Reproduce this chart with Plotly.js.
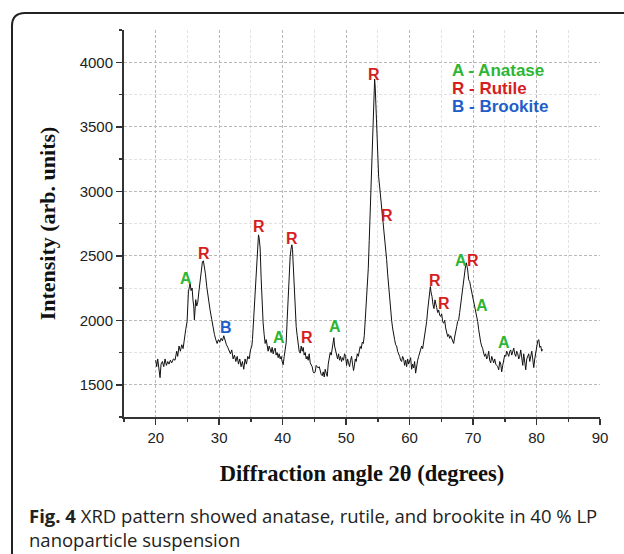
<!DOCTYPE html>
<html>
<head>
<meta charset="utf-8">
<script src="https://cdn.plot.ly/plotly-3.0.1.min.js"></script>
<style>
  html, body { margin: 0; padding: 0; background: #ffffff; }
  #chart { width: 624px; height: 554px; }
</style>
</head>
<body>
<div id="chart"></div>
<script>
// ---- Data ----
const twoTheta = [
  20.00,20.15,20.31,20.47,20.68,20.84,21.05,21.26,21.47,21.68,21.89,22.10,22.31,22.52,22.78,23.04,23.31,23.46,23.67,23.88,
  24.10,24.31,24.52,24.73,24.94,25.15,25.31,25.41,25.57,25.73,25.88,25.99,26.09,26.20,26.30,26.46,26.62,26.83,26.99,27.14,
  27.36,27.51,27.67,27.83,28.04,28.30,28.56,28.83,29.04,29.25,29.46,29.67,29.88,30.09,30.30,30.51,30.72,30.93,31.14,31.35,
  31.56,31.77,31.98,32.19,32.40,32.62,32.83,33.04,33.24,33.45,33.66,33.87,34.08,34.29,34.50,34.72,34.93,35.14,
  35.24,35.40,35.56,35.71,35.87,36.03,36.19,36.29,36.45,36.61,36.77,36.92,37.08,37.24,37.40,37.55,37.71,37.87,38.03,38.19,
  38.34,38.50,38.66,38.82,38.97,39.13,39.29,39.45,39.61,39.76,39.92,40.08,40.24,40.39,40.55,40.71,40.87,41.02,41.18,41.34,
  41.45,41.55,41.66,41.76,41.87,41.97,42.13,42.29,42.44,42.60,42.76,42.92,43.08,43.23,43.39,43.55,43.71,43.86,44.02,44.18,
  44.34,44.50,44.65,44.81,44.97,45.13,45.28,45.44,45.60,45.76,45.92,46.07,46.23,46.39,46.55,46.70,46.86,47.02,47.18,47.33,
  47.49,47.65,47.81,47.97,48.07,48.18,48.33,48.49,48.65,48.81,48.96,49.12,49.28,49.44,49.59,49.75,49.91,50.07,50.23,50.38,
  50.54,50.70,50.86,51.01,51.17,
  51.28,51.44,51.59,51.75,51.91,52.07,52.22,52.38,52.54,52.70,52.86,53.01,53.17,53.33,53.49,53.64,53.80,53.96,54.12,54.28,
  54.38,54.49,54.59,54.70,54.80,54.96,55.12,55.27,55.43,55.59,55.75,55.90,56.06,56.22,56.38,56.54,56.69,56.85,57.01,57.17,
  57.32,57.48,57.64,57.80,57.96,58.11,58.27,58.43,58.59,58.74,58.90,59.06,59.22,59.38,59.53,59.69,59.85,60.01,60.16,60.32,
  60.48,60.64,60.79,60.95,61.11,61.27,61.43,61.58,61.74,61.90,62.06,62.21,62.37,62.53,62.69,62.85,63.00,63.16,63.27,63.37,
  63.53,63.69,63.84,64.00,64.11,64.26,64.42,64.58,64.74,64.90,65.05,65.21,65.37,65.53,65.68,65.84,66.00,66.16,66.31,
  66.47,66.63,66.79,66.94,67.10,67.26,67.42,67.57,67.73,67.89,68.05,68.20,68.36,68.52,68.68,68.84,68.94,69.05,69.15,69.31,
  69.47,69.62,69.78,69.94,70.10,70.26,70.41,70.57,70.73,70.89,71.04,71.20,71.36,71.52,71.67,71.83,71.99,72.15,72.31,72.46,
  72.62,72.78,72.94,73.09,73.25,73.41,73.57,73.73,73.88,74.04,74.20,74.36,74.51,74.67,74.83,74.99,75.15,75.30,75.46,75.62,
  75.78,75.93,76.09,76.25,76.41,76.56,76.72,76.88,77.04,77.20,77.35,77.51,77.67,77.83,77.98,78.14,78.30,78.46,78.62,78.77,
  78.93,79.09,79.25,79.40,79.56,79.72,79.88,80.03,80.19,80.35,80.51,80.66,80.82,80.93
];
const intensity = [
  1690,1640,1700,1620,1555,1660,1680,1640,1700,1650,1680,1660,1690,1670,1700,1690,1760,1720,1800,1760,
  1810,1780,1870,1930,1990,2220,2260,2290,2230,2250,2150,2110,2003,2080,2160,2110,2140,2235,2320,2390,
  2455,2460,2420,2360,2260,2160,2080,2005,1930,1890,1850,1820,1850,1830,1860,1840,1880,1840,1810,1790,
  1760,1740,1770,1700,1730,1680,1720,1660,1700,1640,1680,1620,1700,1660,1720,1700,1770,1800,
  1850,2003,2150,2290,2450,2580,2662,2640,2560,2325,2120,1980,1890,1820,1850,1790,1760,1800,1770,1750,
  1790,1740,1770,1784,1730,1750,1710,1740,1700,1720,1680,1655,1720,1760,1825,2003,2200,2380,2495,2560,
  2585,2550,2420,2260,2120,2030,1950,1880,1790,1760,1745,1800,1760,1790,1730,1750,1700,1720,1690,1740,
  1670,1650,1640,1600,1590,1600,1650,1640,1630,1640,1590,1580,1570,1600,1560,1620,1590,1565,1660,1700,
  1750,1730,1770,1830,1865,1800,1760,1730,1700,1740,1690,1720,1680,1710,1690,1740,1720,1650,1700,1670,
  1640,1690,1720,1660,1610,
  1640,1700,1680,1740,1720,1760,1797,1780,1830,1820,1880,2003,2110,2240,2400,2620,2854,3150,3450,3700,
  3800,3870,3800,3640,3460,3250,3113,3040,2960,2860,2800,2725,2650,2580,2470,2360,2261,2170,2080,2000,
  1940,1874,1850,1810,1800,1760,1745,1720,1690,1680,1720,1700,1650,1690,1640,1700,1660,1680,1710,1620,
  1660,1630,1680,1590,1650,1690,1720,1750,1771,1800,1780,1830,1880,1920,1990,2080,2158,2230,2261,2220,
  2184,2120,2090,2158,2140,2100,2060,2080,2040,2029,2050,1990,1977,2000,1940,1900,1874,1890,1860,
  1880,1860,1830,1820,1870,1900,1950,1990,2003,2060,2130,2200,2260,2313,2380,2430,2445,2420,2390,2313,
  2300,2260,2220,2200,2170,2130,2090,2040,1990,1926,1870,1830,1800,1780,1745,1720,1740,1700,1720,1760,
  1690,1670,1720,1690,1670,1700,1660,1650,1640,1616,1680,1660,1600,1650,1700,1730,1720,1760,1740,1720,
  1760,1770,1730,1760,1784,1740,1720,1760,1740,1700,1720,1770,1680,1650,1740,1690,1616,1700,1720,1740,
  1680,1710,1760,1700,1633,1700,1760,1800,1840,1850,1790,1800,1760,1775
];

// Phase labels placed over the peaks
const peakLabelText  = ['A','R','B','R','A','R','R','A','R','R','R','R','A','R','A','A'];
const peakLabelX     = [24.73,27.64,31.05,36.2,39.35,41.45,43.8,48.17,54.45,56.5,64.08,65.45,68.03,70.0,71.45,74.95];
const peakLabelY     = [2326,2517,1946,2725,1864,2633,1865,1951,3907,2809,2310,2132,2465,2465,2111,1831];

// Legend lines
const legendText  = ['A - Anatase', 'R - Rutile', 'B - Brookite'];
const legendPhase = ['A', 'R', 'B'];
const legendX     = 66.3;
const legendY     = [3938, 3797, 3654];

// Axis ticks
const xTickVals = [20, 30, 40, 50, 60, 70, 80, 90];
const yTickVals = [1500, 2000, 2500, 3000, 3500, 4000];

const captionBold = 'Fig. 4';
const captionLine1 = 'XRD pattern showed anatase, rutile, and brookite in 40 % LP';
const captionLine2 = 'nanoparticle suspension';

// ---- Styling ----
const SANS = 'Arial, "Liberation Sans", sans-serif';
const SERIF = '"Liberation Serif", "Times New Roman", serif';
const phaseColor = { A: '#2db534', R: '#d51f1f', B: '#1f5ec9' };
const W = 624, H = 554;
const M = { l: 124, r: 24, t: 30, b: 137 };
const pw = W - M.l - M.r, ph = H - M.t - M.b;
const px2paper = x => (x - M.l) / pw;
const py2paper = y => (H - M.b - y) / ph;

const annotations = [];
peakLabelText.forEach((t, i) => {
  annotations.push({
    x: peakLabelX[i], y: peakLabelY[i], xref: 'x', yref: 'y',
    text: t, showarrow: false, xanchor: 'center', yanchor: 'middle',
    font: { family: SANS, size: 16, color: phaseColor[t], weight: 'bold' }
  });
});
legendText.forEach((t, i) => {
  annotations.push({
    x: legendX, y: legendY[i], xref: 'x', yref: 'y',
    text: t, showarrow: false, xanchor: 'left', yanchor: 'middle',
    font: { family: SANS, size: 17, color: phaseColor[legendPhase[i]], weight: 'bold' }
  });
});
annotations.push({
  x: px2paper(27), y: py2paper(515), xref: 'paper', yref: 'paper',
  text: '<b>' + captionBold + '</b> ' + captionLine1, showarrow: false,
  xanchor: 'left', yanchor: 'middle', align: 'left',
  font: { family: '"Open Sans", sans-serif', size: 18.5, color: '#222' }
});
annotations.push({
  x: px2paper(27), y: py2paper(539), xref: 'paper', yref: 'paper',
  text: captionLine2, showarrow: false,
  xanchor: 'left', yanchor: 'middle', align: 'left',
  font: { family: '"Open Sans", sans-serif', size: 18.5, color: '#222' }
});

// rounded frame (top-left corner), continues past the right and bottom edges
const fl = px2paper(12), ft = py2paper(13);
const rx = 13 / pw, ry = 13 / ph;
const framePath = `M ${fl},${py2paper(620)} L ${fl},${ft - ry} Q ${fl},${ft} ${fl + rx},${ft} L ${px2paper(700)},${ft}`;

const axisCommon = {
  showline: true, linecolor: '#333', linewidth: 2,
  ticks: 'outside', ticklen: 6, tickwidth: 1.5, tickcolor: '#333',
  showgrid: true, gridcolor: '#b8b8b8', gridwidth: 1, griddash: '3px,2px',
  zeroline: false, mirror: false,
  tickfont: { family: SANS, size: 15, color: '#222' }
};

const layout = {
  width: W, height: H,
  margin: M,
  paper_bgcolor: '#ffffff', plot_bgcolor: '#ffffff',
  showlegend: false,
  xaxis: Object.assign({}, axisCommon, {
    range: [15, 90], tickmode: 'array', tickvals: xTickVals,
    ticktext: xTickVals.map(String),
    minor: { dtick: 5, tick0: 15, ticks: 'outside', ticklen: 3, tickwidth: 1.5, tickcolor: '#333',
             showgrid: true, gridcolor: '#e2e2e2', griddash: '3px,2px', gridwidth: 1 },
    title: { text: 'Diffraction angle 2θ (degrees)', standoff: 20,
             font: { family: SERIF, size: 22.5, color: '#111', weight: 'bold' } }
  }),
  yaxis: Object.assign({}, axisCommon, {
    range: [1250, 4250], tickmode: 'array', tickvals: yTickVals,
    ticktext: yTickVals.map(String),
    minor: { dtick: 250, tick0: 1250, ticks: 'outside', ticklen: 3, tickwidth: 1.5, tickcolor: '#333',
             showgrid: true, gridcolor: '#e2e2e2', griddash: '3px,2px', gridwidth: 1 },
    title: { text: 'Intensity (arb. units)', standoff: 18,
             font: { family: SERIF, size: 22, color: '#111', weight: 'bold' } }
  }),
  annotations: annotations,
  shapes: [{
    type: 'path', xref: 'paper', yref: 'paper', path: framePath,
    line: { color: '#222', width: 2 }, fillcolor: 'rgba(0,0,0,0)', layer: 'above'
  }]
};

const traces = [{
  type: 'scatter', mode: 'lines',
  x: twoTheta, y: intensity,
  line: { color: '#111', width: 1 },
  hoverinfo: 'skip'
}];

Plotly.newPlot('chart', traces, layout, { staticPlot: true, displayModeBar: false });
</script>
</body>
</html>
